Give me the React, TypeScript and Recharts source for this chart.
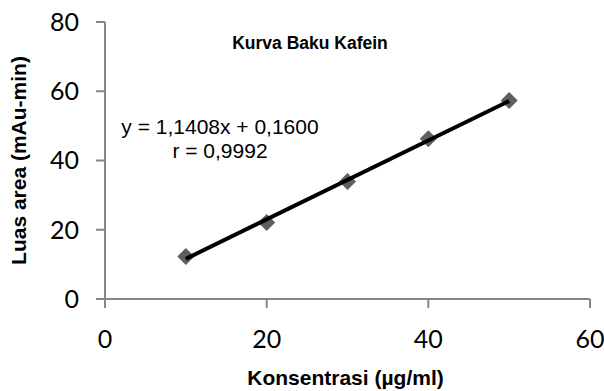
import React from 'react';
import { ComposedChart, Scatter, XAxis, YAxis, Label } from 'recharts';

// Konsentrasi (µg/ml) and luas area (mAu-min)
const konsentrasi = [10, 20, 30, 40, 50];
const luasArea = [12.3, 22.1, 33.9, 46.3, 57.3];

// ends of the fitted line
const trendX = [10, 50];
const trendY = [11.6, 57.2];

const xTicks = [0, 20, 40, 60];
const yTicks = [0, 20, 40, 60, 80];

const points = konsentrasi.map((x, i) => ({ x, y: luasArea[i] }));
const trend = trendX.map((x, i) => ({ x, y: trendY[i] }));

const axisColor = '#868686';
const tickFont = { fontFamily: 'Lato, sans-serif', fontSize: 25, fill: '#000' };
const labelFont = { fontFamily: 'Liberation Sans, Arial', fontWeight: 'bold', fontSize: 21 } as const;

function Diamond(props: any) {
  const { cx, cy } = props;
  const r = 8.5;
  return (
    <path
      d={`M${cx},${cy - r} L${cx + r},${cy} L${cx},${cy + r} L${cx - r},${cy} Z`}
      fill="#5f5f5f"
    />
  );
}

export default function App() {
  return (
    <div style={{ position: 'absolute', left: 0, top: 0, width: 604, height: 391, background: '#fff' }}>
      <ComposedChart width={604} height={391} margin={{ top: 22, right: 14, bottom: 0, left: 0 }}>
        <XAxis
          type="number"
          dataKey="x"
          domain={[0, 60]}
          ticks={xTicks}
          stroke={axisColor}
          strokeWidth={2}
          tickSize={9}
          tickMargin={22}
          tick={tickFont}
          height={92}
        >
          <Label
            content={({ viewBox }: any) => (
              <text
                x={viewBox.x + viewBox.width / 2 - 2}
                y={379}
                textAnchor="middle"
                dominantBaseline="middle"
                style={labelFont}
              >
                Konsentrasi (µg/ml)
              </text>
            )}
          />
        </XAxis>
        <YAxis
          type="number"
          dataKey="y"
          domain={[0, 80]}
          ticks={yTicks}
          stroke={axisColor}
          strokeWidth={2}
          tickSize={9}
          tickMargin={17}
          tick={tickFont}
          width={105}
        >
          <Label
            content={({ viewBox }: any) => {
              const cy = viewBox.y + viewBox.height / 2;
              return (
                <text
                  x={20}
                  y={cy}
                  transform={`rotate(-90, 20, ${cy})`}
                  textAnchor="middle"
                  dominantBaseline="middle"
                  style={labelFont}
                >
                  Luas area (mAu-min)
                </text>
              );
            }}
          />
        </YAxis>
        <Scatter data={points} shape={<Diamond />} isAnimationActive={false} />
        <Scatter
          data={trend}
          line={{ stroke: '#000', strokeWidth: 4 }}
          shape={() => <g />}
          isAnimationActive={false}
        />
      </ComposedChart>
      <div
        style={{
          position: 'absolute',
          left: 160,
          top: 32,
          width: 300,
          textAlign: 'center',
          fontFamily: 'Liberation Sans, Arial',
          fontWeight: 'bold',
          fontSize: 17.5,
          lineHeight: '22px',
        }}
      >
        Kurva Baku Kafein
      </div>
      <div
        style={{
          position: 'absolute',
          left: 80,
          top: 115,
          width: 280,
          textAlign: 'center',
          fontFamily: 'Liberation Sans, Arial',
          fontSize: 21,
          lineHeight: '24px',
        }}
      >
        y = 1,1408x + 0,1600
        <br />
        r = 0,9992
      </div>
    </div>
  );
}
